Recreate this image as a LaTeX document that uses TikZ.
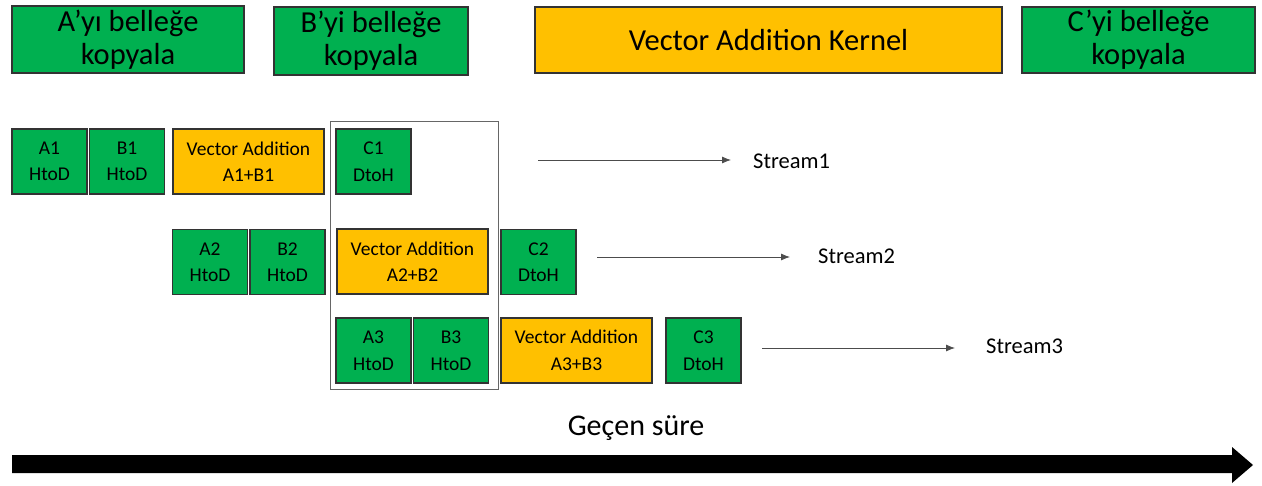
\documentclass[tikz,border=0pt]{standalone}
\usepackage{fontspec}
\setmainfont{Carlito}
\usetikzlibrary{positioning,arrows.meta}

\definecolor{copygreen}{HTML}{00B050}
\definecolor{kernelorange}{HTML}{FFC000}

\tikzset{
    copybox/.style={draw=black!80, line width=1.3pt, fill=copygreen, align=center, inner sep=0pt, font=\fontsize{30.5}{33}\selectfont},
    kernelbox/.style={copybox, fill=kernelorange},
    smallbox/.style={draw=black!80, line width=1.1pt, fill=copygreen, align=center, inner sep=0pt,
        minimum width=75pt, minimum height=65pt, font=\fontsize{19.5}{26.5}\selectfont},
    addbox/.style={smallbox, fill=kernelorange, minimum width=151pt},
    streamlabel/.style={inner sep=0pt, anchor=west, font=\fontsize{22.5}{24}\selectfont},
    streamarrow/.style={draw=black!70, line width=0.8pt, -{Latex[length=9pt,width=7pt]}}
}

\begin{document}
\begin{tikzpicture}[x=1pt, y=-1pt]
    \useasboundingbox (0,0) rectangle (1262,485);

    % top row
    \node [copybox, minimum width=232pt, minimum height=67pt] (copya) at (128,39.5) {A’yı belleğe\\kopyala};
    \node [copybox, minimum width=194pt, minimum height=68pt] (copyb) at (371,41) {B’yi belleğe\\kopyala};
    \node [kernelbox, minimum width=467pt, minimum height=66pt] (kernel) at (768.5,40) {Vector Addition Kernel};
    \node [copybox, minimum width=233pt, minimum height=66pt] (copyc) at (1138.5,40) {C’yi belleğe\\kopyala};

    % stream 1
    \node [smallbox] (a1) at (49.5,161.5) {A1\\HtoD};
    \node [smallbox] (b1) at (127,161.5) {B1\\HtoD};
    \node [addbox] (add1) at (248.5,161.5) {Vector Addition\\A1+B1};
    \node [smallbox] (c1) at (373.5,161.5) {C1\\DtoH};

    % stream 2
    \node [smallbox] (a2) at (210,262) {A2\\HtoD};
    \node [smallbox] (b2) at (287.5,262) {B2\\HtoD};
    \node [addbox] (add2) at (412.5,261.5) {Vector Addition\\A2+B2};
    \node [smallbox] (c2) at (538.5,262) {C2\\DtoH};

    % stream 3
    \node [smallbox] (a3) at (373.5,350.5) {A3\\HtoD};
    \node [smallbox] (b3) at (451,350.5) {B3\\HtoD};
    \node [addbox] (add3) at (576.5,350.5) {Vector Addition\\A3+B3};
    \node [smallbox] (c3) at (703.5,350.5) {C3\\DtoH};

    % overlap frame
    \draw [black!60, line width=1pt] (330,121) rectangle (498,389);

    % stream labels
    \node [streamlabel] (s1) at (753,161) {Stream1};
    \node [streamlabel] (s2) at (818,256) {Stream2};
    \node [streamlabel] (s3) at (986,346) {Stream3};

    \coordinate (s1start) at (538,160);
    \coordinate (s2start) at (597,257);
    \coordinate (s3start) at (762,348);
    \draw [streamarrow] (s1start) -- (s1start -| 731,0);
    \draw [streamarrow] (s2start) -- (s2start -| 790,0);
    \draw [streamarrow] (s3start) -- (s3start -| 955,0);

    % time axis
    \node [font=\fontsize{30}{32}\selectfont, inner sep=0pt] (elapsed) at (636,428) {Geçen süre};
    \fill (12,455) -- (1232,455) -- (1232,447) -- (1253,465) -- (1232,483) -- (1232,473) -- (12,473) -- cycle;
\end{tikzpicture}
\end{document}
